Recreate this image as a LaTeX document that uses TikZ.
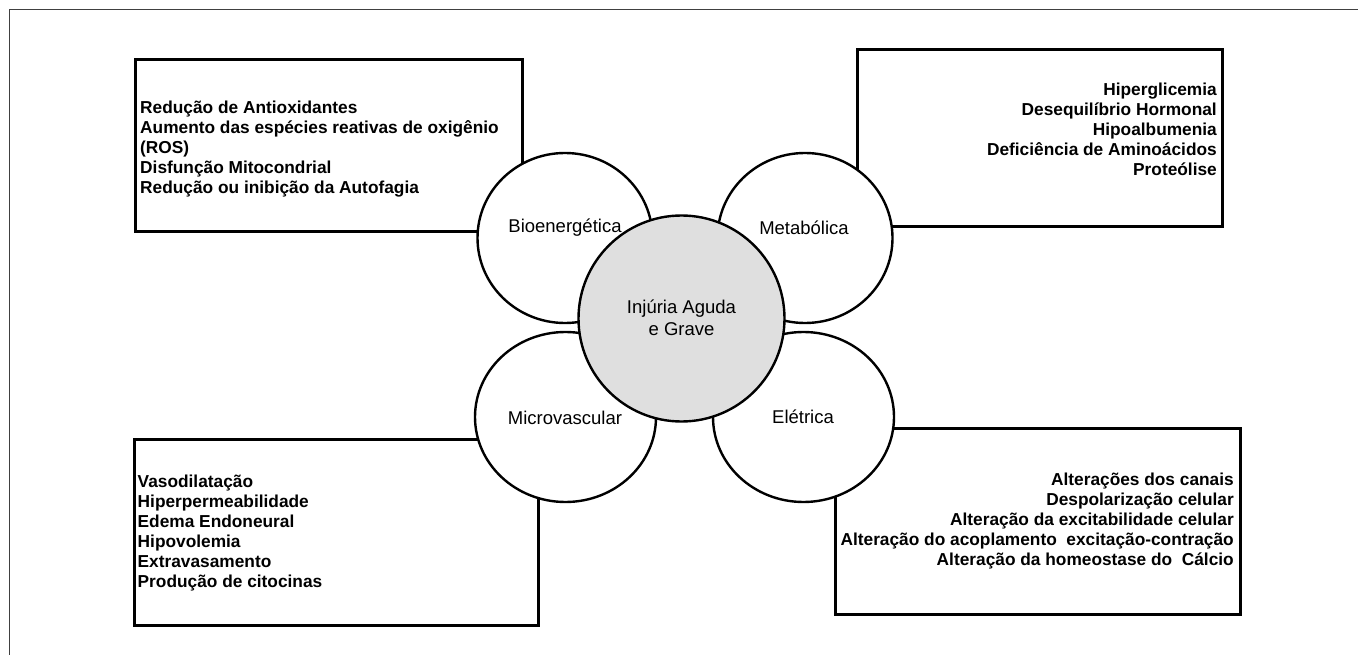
\documentclass[tikz,border=0pt]{standalone}
\usepackage{fontspec}
\setmainfont{Liberation Sans}
\usetikzlibrary{shapes.geometric}
\begin{document}
\begin{tikzpicture}[x=1pt,y=-1pt,
  listbox/.style={draw=black,line width=3pt,rectangle,inner sep=0pt},
  listtext/.style={inner sep=0pt,font=\fontsize{17.3}{20}\selectfont\bfseries},
  petal/.style={draw=black,line width=2.4pt,fill=white,ellipse,inner sep=0pt},
  core/.style={draw=black,line width=2.4pt,fill=gray!25,circle,inner sep=0pt,minimum size=206pt},
  label/.style={inner sep=0pt,font=\fontsize{18.5}{22}\selectfont,align=center}]
\useasboundingbox (0,0) rectangle (1358,655);
% outer frame (left and top sides)
\draw[line width=1.6pt,color=black!75] (9.5,655) -- (9.5,9.5) -- (1358,9.5);

% list boxes
\node[listbox,minimum width=387pt,minimum height=172pt] (bioBox) at (328.5,146) {};
\node[listbox,minimum width=365pt,minimum height=177pt] (metaBox) at (1039.5,138.5) {};
\node[listbox,minimum width=404pt,minimum height=186pt] (microBox) at (336,532) {};
\node[listbox,minimum width=405pt,minimum height=186pt] (eleBox) at (1037.5,521) {};

\node[listtext,align=left,anchor=west] (bioText) at (140,149)
  {Redução de Antioxidantes\\Aumento das espécies reativas de oxigênio\\(ROS)\\Disfunção Mitocondrial\\Redução ou inibição da Autofagia};
\node[listtext,align=right,anchor=east] (metaText) at (1217,129)
  {Hiperglicemia\\Desequilíbrio Hormonal\\Hipoalbumenia\\Deficiência de Aminoácidos\\Proteólise};
\node[listtext,align=left,anchor=west] (microText) at (137.5,533)
  {Vasodilatação\\Hiperpermeabilidade\\Edema Endoneural\\Hipovolemia\\Extravasamento\\Produção de citocinas};
\node[listtext,align=right,anchor=east] (eleText) at (1234,521)
  {Alterações dos canais\\Despolarização celular\\Alteração da excitabilidade celular\\Alteração do acoplamento\ \ excitação-contração\\Alteração da homeostase do\ \ Cálcio};

% petals
\node[petal,minimum width=175pt,minimum height=170pt] (bio) at (565,238) {};
\node[petal,minimum width=175pt,minimum height=170pt] (meta) at (805,238) {};
\node[petal,minimum width=181pt,minimum height=170pt] (micro) at (565.5,417) {};
\node[petal,minimum width=181pt,minimum height=170pt] (ele) at (803.5,417) {};
\node[label] (bioLabel) at (565,228) {Bioenergética};
\node[label] (metaLabel) at (804,228) {Metabólica};
\node[label] (microLabel) at (565,418) {Microvascular};
\node[label] (eleLabel) at (803,417) {Elétrica};

% centre
\node[core] (injury) at (681.5,318.5) {};
\node[label] (injuryLabel) at (681.5,318) {Injúria Aguda\\e Grave};
\end{tikzpicture}
\end{document}
